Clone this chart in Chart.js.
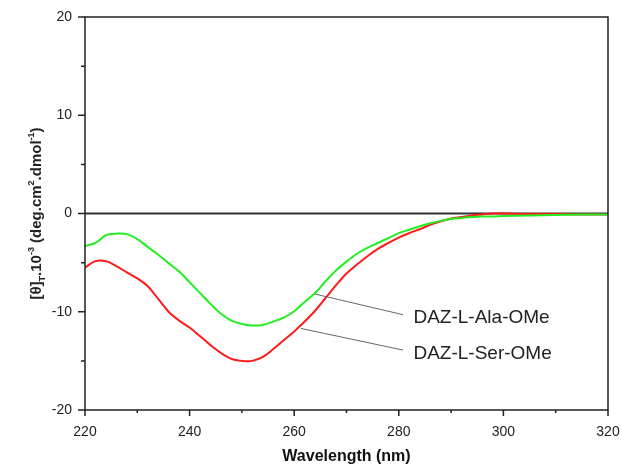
<!DOCTYPE html>
<html>
<head>
<meta charset="utf-8">
<script src="https://cdn.jsdelivr.net/npm/chart.js@4.4.1/dist/chart.umd.min.js"></script>
<style>
  html, body { margin: 0; padding: 0; background: #fff; }
  #wrap { width: 622px; height: 471px; }
</style>
</head>
<body>
<div id="wrap"><canvas id="myChart"></canvas></div>
<script>
// values
const wavelengths = [220, 222, 224, 226, 228, 230, 232, 234, 236, 238, 240, 242, 244, 246, 248, 250,
  252, 254, 256, 258, 260, 262, 264, 266, 268, 270, 272, 274, 276, 278, 280, 282, 284, 286, 288, 290,
  292, 294, 296, 298, 300, 305, 310, 315, 320];
const alaValues = [-3.3, -3.0, -2.2, -2.05, -2.1, -2.6, -3.4, -4.2, -5.05, -5.9, -7.0, -8.1, -9.2, -10.2, -10.9, -11.25,
  -11.4, -11.35, -11.0, -10.6, -9.95, -9.0, -8.1, -6.9, -5.8, -4.9, -4.1, -3.5, -3.0, -2.5, -2.0, -1.65, -1.3, -1.0, -0.75, -0.55,
  -0.45, -0.35, -0.3, -0.3, -0.25, -0.2, -0.15, -0.1, -0.1];
const serValues = [-5.5, -4.85, -4.85, -5.35, -6.0, -6.6, -7.4, -8.7, -10.0, -10.9, -11.6, -12.5, -13.4, -14.2, -14.8, -15.0,
  -15.0, -14.6, -13.8, -12.9, -12.0, -11.0, -9.9, -8.6, -7.3, -6.1, -5.2, -4.35, -3.6, -3.0, -2.45, -2.0, -1.6, -1.15, -0.8, -0.5,
  -0.35, -0.2, -0.1, 0.0, 0.0, -0.05, -0.05, -0.1, -0.1];
const seriesNames = ['DAZ-L-Ala-OMe', 'DAZ-L-Ser-OMe'];
const seriesColors = ['#22ee22', '#ff1a1a'];

const xMajorTicks = [220, 240, 260, 280, 300, 320];
const xMinorTicks = [230, 250, 270, 290, 310];
const yMajorTicks = [-20, -10, 0, 10, 20];
const yMinorTicks = [-15, -5, 5, 15];

// leader lines: start on the curve, end next to the label (data units)
const leaderStarts = [[264, -8.2], [261.3, -11.7]];
const leaderEnds = [[280.8, -10.3], [280.8, -13.9]];
const labelSpots = [[282.8, -10.6], [282.8, -14.3]];

const FONT = '"Liberation Sans", Arial, Helvetica, sans-serif';
Chart.defaults.font.family = FONT;
Chart.defaults.color = '#222';

const yTitleParts = [
  { t: '[\u03B8]' }, { t: 'T', sub: true }, { t: '.10' }, { t: '-3', sup: true },
  { t: ' (deg.cm' }, { t: '2', sup: true }, { t: '.dmol' }, { t: '-1', sup: true }, { t: ')' }
];

const framePlugin = {
  id: 'frame',
  beforeDatasetsDraw(chart) {
    const { ctx, chartArea: a, scales: { y } } = chart;
    const y0 = y.getPixelForValue(0);
    ctx.save();
    ctx.strokeStyle = '#333';
    ctx.lineWidth = 2;
    ctx.beginPath();
    ctx.moveTo(a.left, y0);
    ctx.lineTo(a.right, y0);
    ctx.stroke();
    ctx.restore();
  },
  afterDraw(chart) {
    const { ctx, chartArea: a, scales: { x, y } } = chart;
    ctx.save();
    ctx.strokeStyle = '#222';
    ctx.lineWidth = 1.5;
    ctx.strokeRect(a.left, a.top, a.right - a.left, a.bottom - a.top);

    ctx.beginPath();
    yMajorTicks.concat(yMinorTicks).forEach((v) => {
      const len = yMajorTicks.includes(v) ? 7 : 4;
      const py = y.getPixelForValue(v);
      ctx.moveTo(a.left - len, py);
      ctx.lineTo(a.left, py);
    });
    xMajorTicks.concat(xMinorTicks).forEach((v) => {
      const len = xMajorTicks.includes(v) ? 6 : 3;
      const px = x.getPixelForValue(v);
      ctx.moveTo(px, a.bottom);
      ctx.lineTo(px, a.bottom + len);
    });
    ctx.stroke();

    // leader lines and series names
    ctx.strokeStyle = '#666';
    ctx.lineWidth = 1;
    ctx.fillStyle = '#222';
    ctx.font = '19px ' + FONT;
    ctx.textAlign = 'left';
    ctx.textBaseline = 'middle';
    seriesNames.forEach((name, i) => {
      ctx.beginPath();
      ctx.moveTo(x.getPixelForValue(leaderStarts[i][0]), y.getPixelForValue(leaderStarts[i][1]));
      ctx.lineTo(x.getPixelForValue(leaderEnds[i][0]), y.getPixelForValue(leaderEnds[i][1]));
      ctx.stroke();
      ctx.fillText(name, x.getPixelForValue(labelSpots[i][0]), y.getPixelForValue(labelSpots[i][1]));
    });

    // rotated y title with sub/superscripts
    const big = 'bold 15px ' + FONT;
    const small = 'bold 9px ' + FONT;
    let total = 0;
    yTitleParts.forEach((p) => {
      ctx.font = (p.sub || p.sup) ? small : big;
      p.w = ctx.measureText(p.t).width;
      total += p.w;
    });
    ctx.translate(35, (a.top + a.bottom) / 2);
    ctx.rotate(-Math.PI / 2);
    ctx.textBaseline = 'alphabetic';
    let cx = -total / 2;
    yTitleParts.forEach((p) => {
      ctx.font = (p.sub || p.sup) ? small : big;
      const dy = p.sup ? -7 : (p.sub ? 4 : 0);
      ctx.fillText(p.t, cx, 6 + dy);
      cx += p.w;
    });
    ctx.restore();
  }
};

const ctx = document.getElementById('myChart');

new Chart(ctx, {
  type: 'line',
  data: {
    datasets: [
      {
        label: seriesNames[0],
        data: wavelengths.map((w, i) => ({ x: w, y: alaValues[i] })),
        borderColor: seriesColors[0],
        borderWidth: 2,
        pointRadius: 0,
        tension: 0.35,
        fill: false
      },
      {
        label: seriesNames[1],
        data: wavelengths.map((w, i) => ({ x: w, y: serValues[i] })),
        borderColor: seriesColors[1],
        borderWidth: 2,
        pointRadius: 0,
        tension: 0.35,
        fill: false
      }
    ]
  },
  options: {
    responsive: true,
    maintainAspectRatio: false,
    animation: false,
    layout: { padding: { top: 17, right: 14, left: 0, bottom: 0 } },
    plugins: { legend: { display: false }, tooltip: { enabled: false } },
    scales: {
      x: {
        type: 'linear',
        min: 220,
        max: 320,
        afterFit: (s) => { s.height = 61; s.paddingLeft = 0; s.paddingRight = 0; },
        afterBuildTicks: (s) => { s.ticks = xMajorTicks.map((v) => ({ value: v })); },
        border: { display: false },
        grid: { display: false, drawTicks: true, tickLength: 6 },
        ticks: { font: { size: 14 }, padding: 8, maxRotation: 0 },
        title: {
          display: true,
          text: 'Wavelength (nm)',
          font: { size: 16, weight: 'bold' },
          color: '#111',
          padding: { top: 0, bottom: 5 }
        }
      },
      y: {
        min: -20,
        max: 20,
        afterFit: (s) => { s.width = 85; s.paddingTop = 0; s.paddingBottom = 0; },
        afterBuildTicks: (s) => { s.ticks = yMajorTicks.map((v) => ({ value: v })); },
        border: { display: false },
        grid: { display: false, drawTicks: true, tickLength: 7 },
        ticks: { font: { size: 14 }, padding: 6 }
      }
    }
  },
  plugins: [framePlugin]
});
</script>
</body>
</html>
